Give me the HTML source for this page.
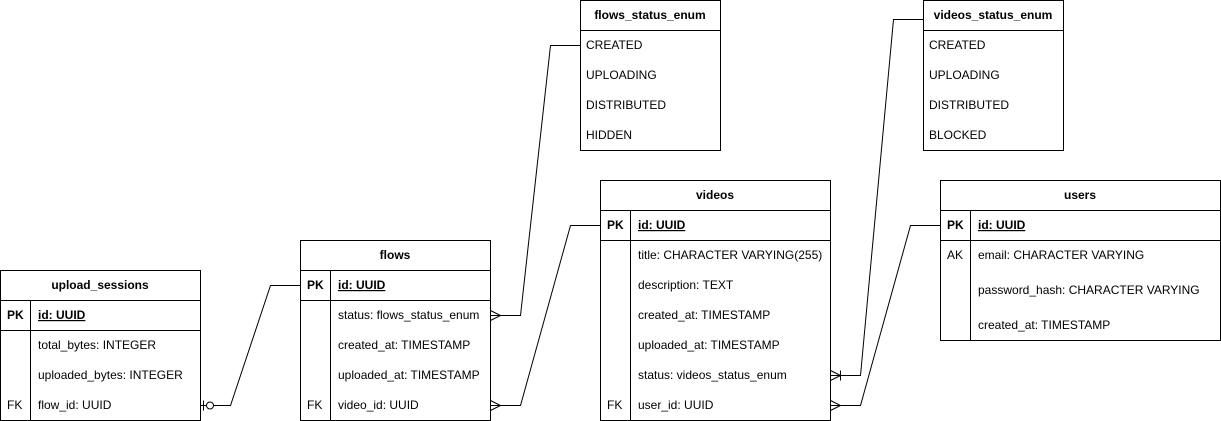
<!DOCTYPE html>
<html><head><meta charset="utf-8"><style>
html,body{margin:0;padding:0;background:#fff;}
svg{display:block;}
text{font-family:"Liberation Sans",Arial,sans-serif;font-size:12px;fill:#000;}
.b{font-weight:bold;}
</style></head><body>
<svg width="1221" height="421" viewBox="0 0 1221 421" xmlns="http://www.w3.org/2000/svg">
<g fill="none" stroke="#000" stroke-width="1">
<!-- upload_sessions -->
<rect x="0.5" y="270.5" width="200" height="150"/>
<line x1="0.5" y1="300.5" x2="200.5" y2="300.5"/>
<line x1="0.5" y1="330.5" x2="200.5" y2="330.5"/>
<line x1="30.5" y1="300.5" x2="30.5" y2="420.5"/>
<!-- flows -->
<rect x="300.5" y="240.5" width="190" height="180"/>
<line x1="300.5" y1="270.5" x2="490.5" y2="270.5"/>
<line x1="300.5" y1="300.5" x2="490.5" y2="300.5"/>
<line x1="330.5" y1="270.5" x2="330.5" y2="420.5"/>
<!-- videos -->
<rect x="600.5" y="180.5" width="230" height="240"/>
<line x1="600.5" y1="210.5" x2="830.5" y2="210.5"/>
<line x1="600.5" y1="240.5" x2="830.5" y2="240.5"/>
<line x1="630.5" y1="210.5" x2="630.5" y2="420.5"/>
<!-- users -->
<rect x="940.5" y="180.5" width="280" height="160"/>
<line x1="940.5" y1="210.5" x2="1220.5" y2="210.5"/>
<line x1="940.5" y1="240.5" x2="1220.5" y2="240.5"/>
<line x1="970.5" y1="210.5" x2="970.5" y2="340.5"/>
<!-- enums -->
<rect x="580.5" y="0.5" width="140" height="150"/>
<line x1="580.5" y1="30.5" x2="720.5" y2="30.5"/>
<rect x="923.5" y="0.5" width="140" height="150"/>
<line x1="923.5" y1="30.5" x2="1063.5" y2="30.5"/>
<!-- connectors -->
<polyline points="200.5,405.5 230.5,405.5 270.5,285.5 300.5,285.5"/>
<line x1="203.5" y1="400.5" x2="203.5" y2="410.5"/>
<circle cx="210" cy="405.5" r="3.5" fill="#fff"/>
<polyline points="490.5,315.5 520.5,315.5 550.5,45.5 580.5,45.5"/>
<polyline points="490.5,310.5 500.5,315.5 490.5,320.5"/>
<polyline points="490.5,405.5 520.5,405.5 570.5,225.5 600.5,225.5"/>
<polyline points="490.5,400.5 500.5,405.5 490.5,410.5"/>
<polyline points="830.5,375.5 860.5,375.5 893.5,19.5 923.5,19.5"/>
<polyline points="830.5,370.5 840.5,375.5 830.5,380.5"/>
<line x1="840.5" y1="370.5" x2="840.5" y2="380.5"/>
<polyline points="830.5,405.5 860.5,405.5 910.5,225.5 940.5,225.5"/>
<polyline points="830.5,400.5 840.5,405.5 830.5,410.5"/>
</g>
<!-- upload_sessions text -->
<text x="100" y="289" text-anchor="middle" class="b">upload_sessions</text>
<text x="7" y="319" class="b">PK</text>
<text x="38" y="319" class="b" text-decoration="underline">id: UUID</text>
<text x="38" y="349">total_bytes: INTEGER</text>
<text x="38" y="379">uploaded_bytes: INTEGER</text>
<text x="7" y="409">FK</text>
<text x="38" y="409">flow_id: UUID</text>
<!-- flows -->
<text x="395" y="259" text-anchor="middle" class="b">flows</text>
<text x="307" y="289" class="b">PK</text>
<text x="338" y="289" class="b" text-decoration="underline">id: UUID</text>
<text x="338" y="319">status: flows_status_enum</text>
<text x="338" y="349">created_at: TIMESTAMP</text>
<text x="338" y="379">uploaded_at: TIMESTAMP</text>
<text x="307" y="409">FK</text>
<text x="338" y="409">video_id: UUID</text>
<!-- videos -->
<text x="715" y="199" text-anchor="middle" class="b">videos</text>
<text x="607" y="229" class="b">PK</text>
<text x="638" y="229" class="b" text-decoration="underline">id: UUID</text>
<text x="638" y="259">title: CHARACTER VARYING(255)</text>
<text x="638" y="289">description: TEXT</text>
<text x="638" y="319">created_at: TIMESTAMP</text>
<text x="638" y="349">uploaded_at: TIMESTAMP</text>
<text x="638" y="379">status: videos_status_enum</text>
<text x="607" y="409">FK</text>
<text x="638" y="409">user_id: UUID</text>
<!-- users -->
<text x="1080" y="199" text-anchor="middle" class="b">users</text>
<text x="947" y="229" class="b">PK</text>
<text x="978" y="229" class="b" text-decoration="underline">id: UUID</text>
<text x="947" y="259">AK</text>
<text x="978" y="259">email: CHARACTER VARYING</text>
<text x="978" y="294">password_hash: CHARACTER VARYING</text>
<text x="978" y="329">created_at: TIMESTAMP</text>
<!-- flows_status_enum -->
<text x="650" y="19" text-anchor="middle" class="b">flows_status_enum</text>
<text x="586" y="49">CREATED</text>
<text x="586" y="79">UPLOADING</text>
<text x="586" y="109">DISTRIBUTED</text>
<text x="586" y="139">HIDDEN</text>
<!-- videos_status_enum -->
<text x="993" y="19" text-anchor="middle" class="b">videos_status_enum</text>
<text x="929" y="49">CREATED</text>
<text x="929" y="79">UPLOADING</text>
<text x="929" y="109">DISTRIBUTED</text>
<text x="929" y="139">BLOCKED</text>
</svg>
</body></html>
